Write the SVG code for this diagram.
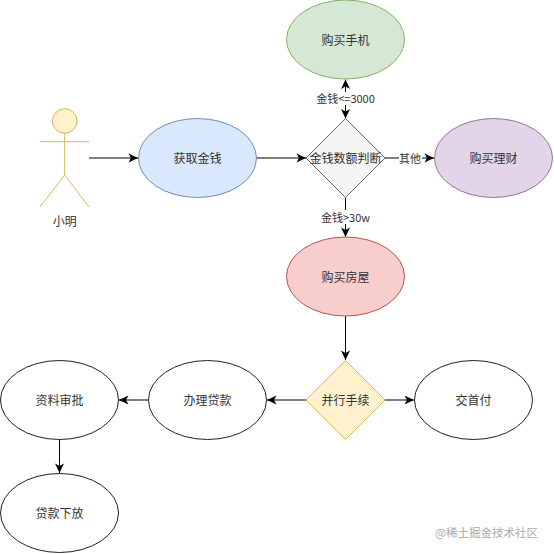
<svg xmlns="http://www.w3.org/2000/svg" width="554" height="554" viewBox="0 0 554 554">
<style>
text{font-family:"Noto Sans CJK SC","Liberation Sans",sans-serif;font-size:12px;fill:#333;text-anchor:middle;dominant-baseline:central}
.lbl{font-size:11px}
.plain{fill:#fff;stroke:#222;stroke-width:1}
.conn{fill:none;stroke:#000;stroke-width:1}
.bg{fill:#fff;stroke:none}
.actor{fill:none;stroke:#d6b656;stroke-width:1}
</style>
<defs>
<marker id="arrow" markerUnits="userSpaceOnUse" markerWidth="12" markerHeight="12" refX="10.500" refY="6" orient="auto-start-reverse">
<path d="M1 1.500L10.500 6L1 10.500L3.500 6Z" fill="#000"/>
</marker>
</defs>
<rect width="554" height="554" fill="#fff"/>
<g id="connectors">
<path class="conn" d="M89 158H138" marker-end="url(#arrow)"/>
<path class="conn" d="M257 158H306" marker-end="url(#arrow)"/>
<path class="conn" d="M345.500 118.500V79.500" marker-start="url(#arrow)" marker-end="url(#arrow)"/>
<path class="conn" d="M385 158H434" marker-end="url(#arrow)"/>
<path class="conn" d="M345.500 198V237" marker-end="url(#arrow)"/>
<path class="conn" d="M345.500 316V360" marker-end="url(#arrow)"/>
<path class="conn" d="M306 400H267" marker-end="url(#arrow)"/>
<path class="conn" d="M385 400H414" marker-end="url(#arrow)"/>
<path class="conn" d="M148 400H119" marker-end="url(#arrow)"/>
<path class="conn" d="M59.500 439V473" marker-end="url(#arrow)"/>
</g>
<g id="edge-labels">
<rect class="bg" x="316" y="92" width="59" height="13"/>
<text class="lbl" x="345.500" y="98">金钱&lt;=3000</text>
<rect class="bg" x="399" y="151" width="23" height="14"/>
<text class="lbl" x="410" y="157.500">其他</text>
<rect class="bg" x="321" y="210" width="50" height="14"/>
<text class="lbl" x="345.500" y="216.500">金钱&gt;30w</text>
</g>
<g id="actor-xiaoming">
<circle cx="64.700" cy="121" r="12.300" fill="#fff2cc" stroke="#d6b656"/>
<path class="actor" d="M64.700 133.300V175M40 141.700H89M64.700 175L40 207M64.700 175L89 207"/>
<text x="64.700" y="220.500">小明</text>
</g>
<g id="node-get-money">
<ellipse cx="197.500" cy="158" rx="59" ry="39.500" fill="#dae8fc" stroke="#6c8ebf"/>
<text x="197.500" y="157.500">获取金钱</text>
</g>
<g id="node-phone">
<ellipse cx="345.500" cy="39.500" rx="59" ry="39.500" fill="#d5e8d4" stroke="#82b366"/>
<text x="345.500" y="39.500">购买手机</text>
</g>
<g id="node-decision">
<path d="M345.500 118.500L385 158L345.500 197.500L306 158Z" fill="#f5f5f5" stroke="#666"/>
<text x="345.500" y="157.500">金钱数额判断</text>
</g>
<g id="node-finance">
<ellipse cx="493.500" cy="158" rx="59" ry="39.500" fill="#e1d5e7" stroke="#9673a6"/>
<text x="493.500" y="157.500">购买理财</text>
</g>
<g id="node-house">
<ellipse cx="345.500" cy="276.500" rx="59" ry="39.500" fill="#f8cecc" stroke="#b85450"/>
<text x="345.500" y="276.500">购买房屋</text>
</g>
<g id="node-parallel">
<path d="M345.500 360.500L385 400L345.500 439.500L306 400Z" fill="#fff2cc" stroke="#d6b656"/>
<text x="345.500" y="399.500">并行手续</text>
</g>
<g id="node-downpayment">
<ellipse cx="473.500" cy="400" rx="59" ry="39.500" class="plain"/>
<text x="473.500" y="399.500">交首付</text>
</g>
<g id="node-loan">
<ellipse cx="207.500" cy="400" rx="59" ry="39.500" class="plain"/>
<text x="207.500" y="399.500">办理贷款</text>
</g>
<g id="node-review">
<ellipse cx="59.500" cy="400" rx="59" ry="39.500" class="plain"/>
<text x="59.500" y="399.500">资料审批</text>
</g>
<g id="node-release">
<ellipse cx="59.500" cy="513" rx="59" ry="39.500" class="plain"/>
<text x="59.500" y="512.500">贷款下放</text>
</g>
<text x="486.500" y="532" style="fill:#aaa;font-size:11.500px">@稀土掘金技术社区</text>
</svg>
